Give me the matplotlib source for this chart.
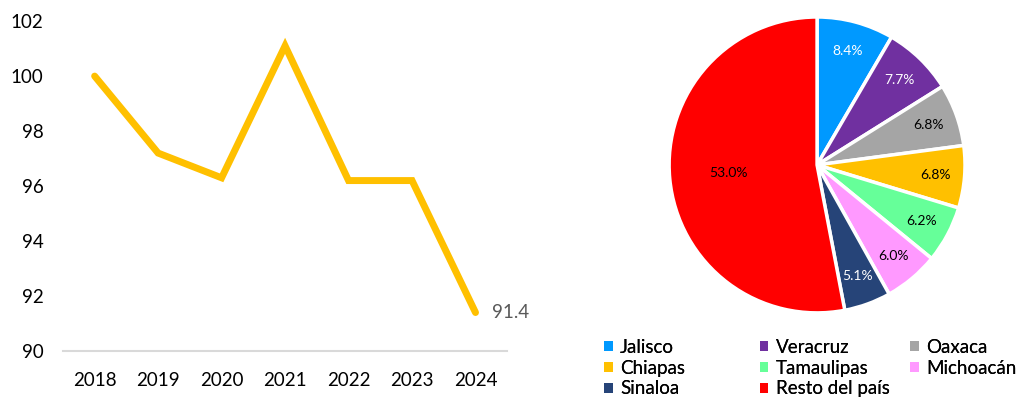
import matplotlib.pyplot as plt
from matplotlib.patches import Patch

plt.rcParams['font.family'] = ['Lato', 'DejaVu Sans']

# line data
years = ['2018', '2019', '2020', '2021', '2022', '2023', '2024']
index_vals = [100.0, 97.2, 96.3, 101.1, 96.2, 96.2, 91.4]

# pie data
states = ['Jalisco', 'Veracruz', 'Oaxaca', 'Chiapas', 'Tamaulipas',
          'Michoacán', 'Sinaloa', 'Resto del país']
shares = [8.4, 7.7, 6.8, 6.8, 6.2, 6.0, 5.1, 53.0]
colors = ['#0099FF', '#7030A0', '#A5A5A5', '#FFC000', '#66FF99',
          '#FF99FF', '#264478', '#FF0000']
label_colors = ['white', 'white', 'black', 'black', 'black', 'black',
                'white', 'black']

fig = plt.figure(figsize=(10.31, 3.98), dpi=100)

# ---- line chart
ax = fig.add_axes([0.061, 0.118, 0.431, 0.829])
x = range(len(years))
ax.plot(x, index_vals, color='#FFC000', lw=5, solid_capstyle='round',
        solid_joinstyle='miter')
ax.set_xlim(-0.5, len(years) - 0.5)
ax.set_ylim(90, 102)
ax.set_yticks(range(90, 103, 2))
ax.set_xticks(list(x))
ax.set_xticklabels(years)
for s in ['top', 'right', 'left']:
    ax.spines[s].set_visible(False)
ax.spines['bottom'].set_color('#D9D9D9')
ax.spines['bottom'].set_linewidth(1.5)
ax.tick_params(length=0, labelsize=13.5, colors='black')
ax.tick_params(axis='y', pad=14)
ax.tick_params(axis='x', pad=15)
ax.annotate(f'{index_vals[-1]:.1f}', (len(years) - 1, index_vals[-1]),
            xytext=(12, 0), textcoords='offset points', va='center',
            ha='left', fontsize=13.5, color='#595959')

# ---- pie chart
pax = fig.add_axes([0.649, 0.2136, 0.287, 0.744])
wedges, texts, autotexts = pax.pie(
    shares, colors=colors, startangle=90, counterclock=False,
    autopct='%1.1f%%', pctdistance=0.8,
    wedgeprops=dict(edgecolor='white', linewidth=2.5),
    textprops=dict(fontsize=10))
for t, c in zip(autotexts, label_colors):
    t.set_color(c)
# big slice label sits closer to centre
bx, by = autotexts[-1].get_position()
autotexts[-1].set_position((bx * 0.75, by * 0.75))
pax.set_xlim(-1, 1)
pax.set_ylim(-1, 1)
pax.set_aspect('equal')

# legend: 3 equal-width columns, read row by row
col_x = [0.577, 0.728, 0.874]
for c in range(3):
    idx = list(range(c, len(states), 3))
    handles = [Patch(facecolor=colors[i], edgecolor='none') for i in idx]
    leg = fig.legend(handles, [states[i] for i in idx], loc='upper left',
                     bbox_to_anchor=(col_x[c], 0.172), frameon=False,
                     fontsize=13.5, handlelength=0.45, handleheight=0.45,
                     handletextpad=0.4, labelspacing=0.2, borderpad=0)
    fig.add_artist(leg)

fig.savefig('out.png', dpi=100)
